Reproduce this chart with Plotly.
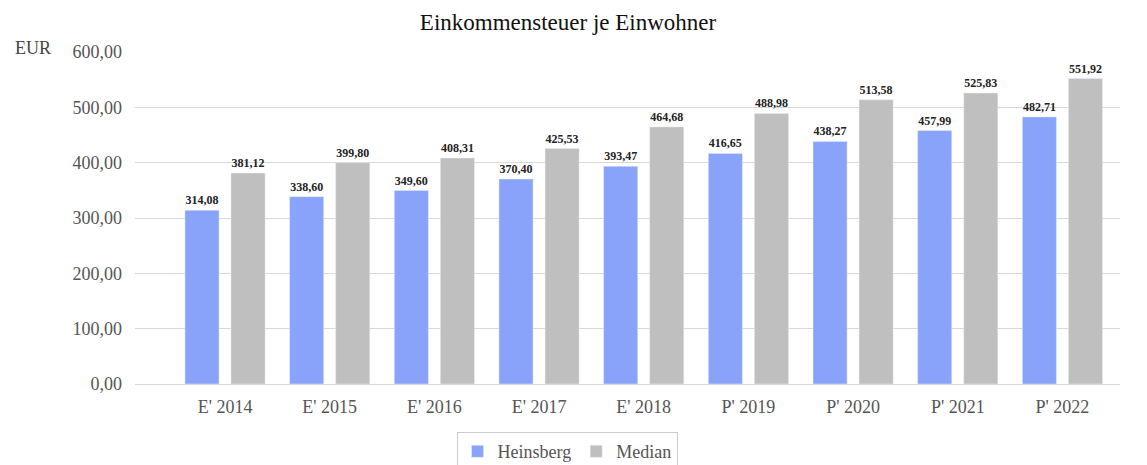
import plotly.graph_objects as go

# Values
years = ["E' 2014", "E' 2015", "E' 2016", "E' 2017", "E' 2018",
         "P' 2019", "P' 2020", "P' 2021", "P' 2022"]
heinsberg = [314.08, 338.60, 349.60, 370.40, 393.47, 416.65, 438.27, 457.99, 482.71]
median = [381.12, 399.80, 408.31, 425.53, 464.68, 488.98, 513.58, 525.83, 551.92]
y_ticks = [0, 100, 200, 300, 400, 500, 600]

serif = "Liberation Serif, Times New Roman, serif"

fig = go.Figure()
fig.add_trace(go.Bar(
    x=years, y=heinsberg, name="Heinsberg",
    marker=dict(color="#88a3f9"),
    texttemplate="%{y:.2f}", textposition="outside",
    textfont=dict(family=serif, size=12, color="#222", weight="bold"),
    cliponaxis=False,
))
fig.add_trace(go.Bar(
    x=years, y=median, name="Median",
    marker=dict(color="#bfbfbf"),
    texttemplate="%{y:.2f}", textposition="outside",
    textfont=dict(family=serif, size=12, color="#222", weight="bold"),
    cliponaxis=False,
))

# page body has an 8px margin, so the figure is sized and placed to compensate
fig.update_layout(
    width=1139, height=457,
    margin=dict(l=127, r=27, t=44, b=81, autoexpand=False),
    paper_bgcolor="white", plot_bgcolor="white",
    separators=",.",
    font=dict(family=serif, size=18, color="#555"),
    title=dict(text="Einkommensteuer je Einwohner", x=0.4917, xanchor="center",
               y=0.969, yanchor="middle",
               font=dict(family=serif, size=23, color="#111")),
    barmode="group", bargap=0.12, bargroupgap=0.26,
    legend=dict(orientation="h", x=0.4386, xanchor="center", y=-0.145, yanchor="top",
                bordercolor="#cccccc", borderwidth=1,
                font=dict(family=serif, size=18, color="#555"),
                itemwidth=30, tracegroupgap=0),
    annotations=[dict(text="EUR", xref="paper", yref="paper", x=-0.124, y=1.012,
                      xanchor="left", yanchor="middle", showarrow=False,
                      font=dict(family=serif, size=18, color="#444"))],
)
fig.update_xaxes(range=[-0.86, 8.55], showgrid=False, showline=False,
                 ticks="", ticklabelstandoff=10, automargin=False,
                 tickfont=dict(size=18, color="#555"))
fig.update_yaxes(range=[0, 600], tickvals=y_ticks, tickformat=".2f",
                 showgrid=True, gridcolor="#d9d9d9", gridwidth=1,
                 zeroline=True, zerolinecolor="#d9d9d9", zerolinewidth=1,
                 ticks="", ticklabelstandoff=12, automargin=False,
                 tickfont=dict(size=18, color="#555"))

fig.write_html("out.html")
